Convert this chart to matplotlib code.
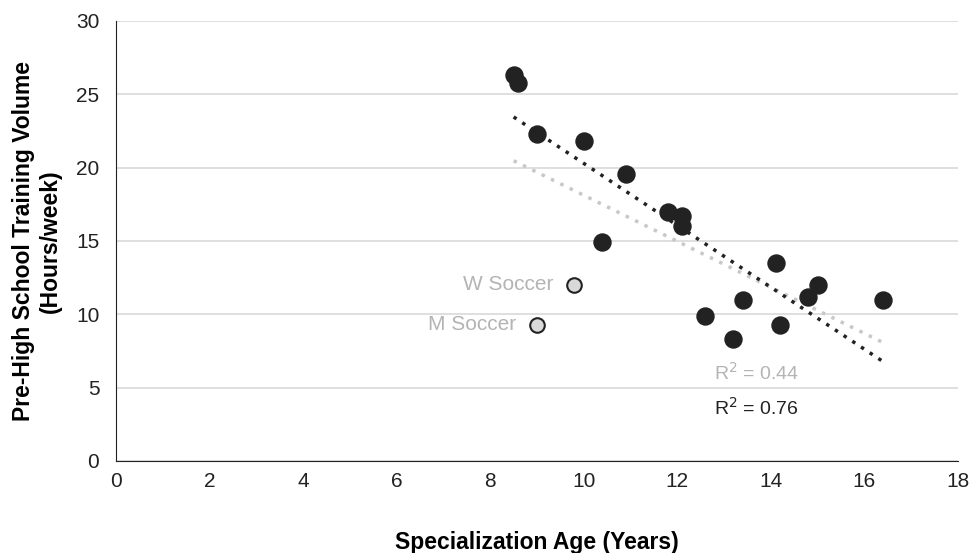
import matplotlib.pyplot as plt
import numpy as np

plt.rcParams['font.family'] = ['Liberation Sans', 'DejaVu Sans']

# data
spec_age = [8.5, 8.6, 9.0, 10.0, 10.9, 10.4, 11.8, 12.1, 12.1, 12.6, 13.2, 13.4, 14.1, 14.2, 14.8, 15.0, 16.4]
volume = [26.3, 25.8, 22.3, 21.8, 19.6, 14.9, 17.0, 16.7, 16.0, 9.9, 8.3, 11.0, 13.5, 9.3, 11.2, 12.0, 11.0]
soccer_labels = ["W Soccer", "M Soccer"]
soccer_age = [9.8, 9.0]
soccer_volume = [12.0, 9.3]

fig = plt.figure(figsize=(9.73, 5.53), dpi=100)
ax = fig.add_axes([116/973, 1 - 461/553, (958-116)/973, (461-21)/553])

# trend lines (black: athletes only, grey: incl. soccer)
xs = np.array(spec_age)
ys = np.array(volume)
m, b = np.polyfit(xs, ys, 1)
xa = np.array(spec_age + soccer_age)
ya = np.array(volume + soccer_volume)
m2, b2 = np.polyfit(xa, ya, 1)
xl = np.array([xs.min(), xs.max()])
ax.plot(xl, m2 * xl + b2, color='#c8c8c8', linestyle=(0, (1, 2)), linewidth=2.5, zorder=2)
ax.plot(xl, m * xl + b, color='#222222', linestyle=(0, (1, 2)), linewidth=2.5, zorder=3)

ax.scatter(spec_age, volume, s=150, color='#222222', zorder=4)
ax.scatter(soccer_age, soccer_volume, s=110, color='#d9d9d9', edgecolor='#222222', linewidth=1.5, zorder=4)

for lab, x, y in zip(soccer_labels, soccer_age, soccer_volume):
    ax.text(x - 0.45, y, lab, ha='right', va='center', fontsize=15, color='#b4b4b4')

ax.text(13.7, 6.0, r'R$^2$ = 0.44', fontsize=14, color='#b4b4b4', ha='center', va='center')
ax.text(13.7, 3.6, r'R$^2$ = 0.76', fontsize=14, color='#222222', ha='center', va='center')

ax.set_xlim(0, 18)
ax.set_ylim(0, 30)
ax.set_xticks(range(0, 19, 2))
ax.set_yticks(range(0, 31, 5))
ax.tick_params(labelsize=15, length=0, colors='#222222')
ax.tick_params(axis='y', pad=12)
ax.tick_params(axis='x', pad=8)
ax.yaxis.grid(True, color='#d9d9d9', linewidth=1.2)
ax.set_axisbelow(True)
for s in ['top', 'right']:
    ax.spines[s].set_visible(False)
ax.spines['left'].set_color('#222222')
ax.spines['bottom'].set_color('#222222')

ax.set_xlabel('Specialization Age (Years)', fontsize=16.5, fontweight='bold', labelpad=29)
ax.set_ylabel('Pre-High School Training Volume\n(Hours/week)', fontsize=16.5, fontweight='bold', labelpad=10)

fig.savefig('out.png', dpi=100)
